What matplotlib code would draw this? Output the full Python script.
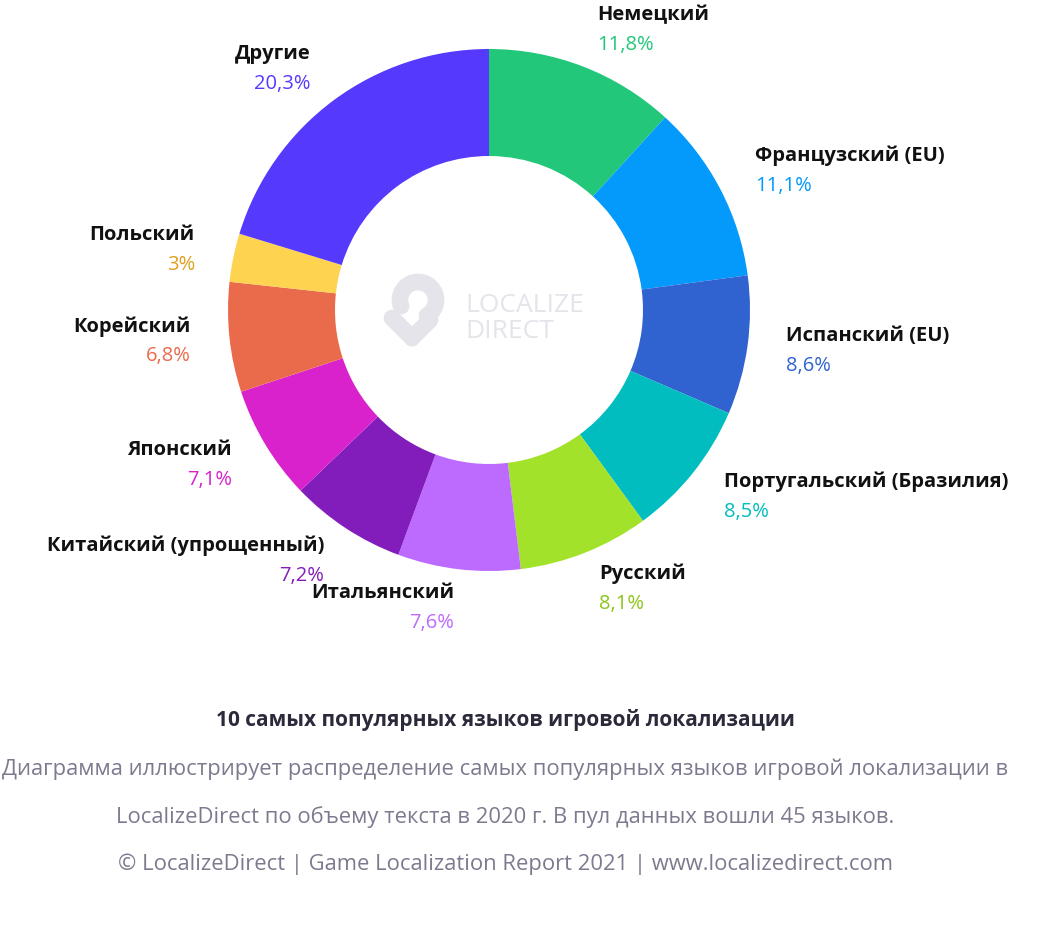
import numpy as np
import matplotlib.pyplot as plt

plt.rcParams['font.family'] = ['Open Sans', 'DejaVu Sans']

# data
labels = ["Немецкий", "Французский (EU)", "Испанский (EU)", "Португальский (Бразилия)",
          "Русский", "Итальянский", "Китайский (упрощенный)", "Японский", "Корейский",
          "Польский", "Другие"]
values = [11.8, 11.1, 8.6, 8.5, 8.1, 7.6, 7.2, 7.1, 6.8, 3, 20.3]
pct_text = ["11,8%", "11,1%", "8,6%", "8,5%", "8,1%", "7,6%", "7,2%", "7,1%", "6,8%", "3%", "20,3%"]
colors = ["#22c77a", "#039afb", "#3163d0", "#02bdbf", "#a3e22a", "#bd6bfe",
          "#821cbb", "#d922cc", "#ea6b4c", "#fed350", "#553afe"]
pct_colors = list(colors)
pct_colors[9] = "#e0a020"
pct_colors[4] = "#8cc41a"

W, H = 1038, 936
cx, cy, R = 489, H - 310, 261

fig = plt.figure(figsize=(W / 100, H / 100), dpi=100)
ax = fig.add_axes([0, 0, 1, 1])

wedges, _ = ax.pie(values, colors=colors, startangle=90, counterclock=False,
                   center=(cx, cy), radius=R, frame=True,
                   wedgeprops=dict(width=R * 0.41, edgecolor='white', linewidth=0))
ax.set_xlim(0, W)
ax.set_ylim(0, H)
ax.set_aspect('auto')
ax.axis('off')

total = sum(values)
cum = 0
for i, v in enumerate(values):
    mid = np.deg2rad(90 - (cum + v / 2) / total * 360)
    cum += v
    x = cx + 1.15 * R * np.cos(mid)
    y = cy + 1.15 * R * np.sin(mid)
    ha = 'left' if np.cos(mid) > 0.05 else 'right'
    ax.text(x, y + 15, labels[i], ha=ha, va='center', fontsize=14.5, fontweight='bold', color='#111111')
    ax.text(x, y - 15, pct_text[i], ha=ha, va='center', fontsize=14.5, color=pct_colors[i])

# center logo
lc = '#e4e4ea'
t = np.linspace(np.deg2rad(-60), np.deg2rad(200), 60)
ax.plot(418 + 18 * np.cos(t), H - 300 + 18 * np.sin(t), color=lc, lw=12, solid_capstyle='round')
ax.plot([392, 412], [H - 318, H - 338], color=lc, lw=12, solid_capstyle='round')
ax.plot([412, 430], [H - 338, H - 320], color=lc, lw=12, solid_capstyle='round')
ax.text(465, H - 305, "LOCALIZE", fontsize=19, color=lc, va='center', ha='left')
ax.text(465, H - 331, "DIRECT", fontsize=19, color=lc, va='center', ha='left')

# captions
ax.text(505, H - 720, "10 самых популярных языков игровой локализации", ha='center', va='center',
        fontsize=15, fontweight='bold', color='#2a2a3a')
gray = '#7c7a8e'
ax.text(505, H - 769, "Диаграмма иллюстрирует распределение самых популярных языков игровой локализации в",
        ha='center', va='center', fontsize=15.8, color=gray)
ax.text(505, H - 817, "LocalizeDirect по объему текста в 2020 г. В пул данных вошли 45 языков.",
        ha='center', va='center', fontsize=15.8, color=gray)
ax.text(505, H - 864, "© LocalizeDirect | Game Localization Report 2021 | www.localizedirect.com",
        ha='center', va='center', fontsize=15.8, color=gray)

fig.savefig("out.png", dpi=100, facecolor='white')
